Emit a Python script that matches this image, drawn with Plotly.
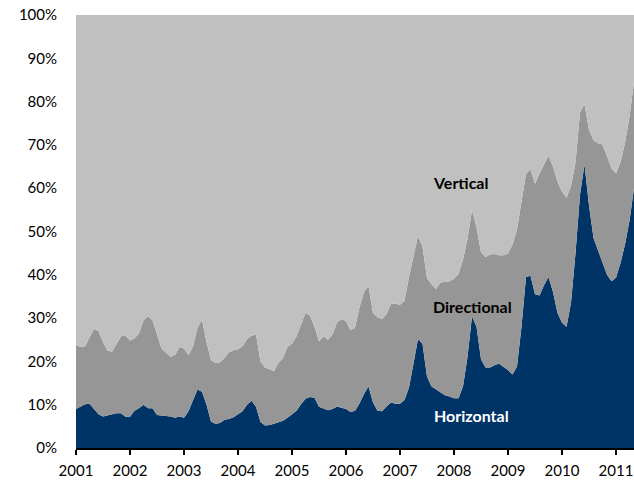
import plotly.graph_objects as go

# Monthly shares (%), Jan 2001 .. May 2011
years = ["2001", "2002", "2003", "2004", "2005", "2006", "2007", "2008", "2009", "2010", "2011"]

horizontal = [
    9.0, 9.5, 10.1, 10.2, 9.0, 7.8, 7.3, 7.5, 7.8, 8.0, 8.0, 7.2,
    7.2, 8.6, 9.2, 10.0, 9.2, 9.2, 7.6, 7.5, 7.4, 7.3, 7.0, 7.3,
    7.0, 8.5, 11.0, 13.5, 13.0, 10.0, 6.1, 5.6, 5.8, 6.5, 6.7, 7.1,
    7.8, 8.5, 10.0, 10.9, 9.5, 6.0, 5.2, 5.3, 5.6, 6.0, 6.3, 7.0,
    7.8, 8.6, 10.1, 11.4, 11.8, 11.6, 9.5, 9.1, 8.7, 9.0, 9.6, 9.3,
    9.0, 8.3, 8.6, 10.3, 12.5, 14.2, 10.5, 8.6, 8.5, 9.6, 10.5, 10.2,
    10.2, 11.1, 14.0, 19.5, 25.2, 24.0, 16.5, 14.2, 13.5, 12.8, 12.2, 11.9,
    11.5, 11.5, 14.2, 21.0, 30.4, 28.0, 20.5, 18.6, 18.6, 19.1, 19.5, 18.7,
    18.0, 17.0, 18.8, 28.0, 39.5, 39.8, 35.5, 35.2, 37.6, 39.5, 36.0, 31.2,
    28.9, 28.0, 33.5, 45.0, 58.5, 65.5, 56.0, 48.5, 45.5, 42.9, 40.0, 38.5,
    39.3, 42.7, 47.0, 52.5, 60.0,
]

directional = [
    14.8, 13.8, 13.4, 15.3, 18.5, 19.2, 17.2, 15.0, 14.4, 16.0, 17.8, 18.8,
    17.6, 16.7, 17.3, 19.5, 21.2, 20.3, 18.4, 15.5, 14.6, 13.8, 14.5, 16.0,
    16.0, 13.0, 12.5, 14.3, 16.6, 14.5, 14.2, 14.0, 14.0, 14.3, 15.4, 15.5,
    15.0, 15.0, 15.2, 15.0, 16.7, 14.0, 13.4, 12.9, 12.2, 13.7, 14.5, 16.4,
    16.3, 17.2, 18.2, 19.8, 18.8, 16.4, 15.1, 16.7, 16.3, 17.2, 19.4, 20.5,
    20.3, 18.9, 19.2, 22.2, 23.5, 23.3, 20.7, 21.6, 21.3, 21.3, 22.8, 23.1,
    22.9, 22.9, 25.5, 25.0, 23.8, 22.5, 22.7, 23.6, 23.2, 25.4, 26.1, 26.6,
    27.6, 28.7, 29.3, 27.3, 24.6, 23.0, 24.7, 25.5, 26.1, 25.7, 25.0, 25.8,
    26.9, 30.0, 31.7, 29.0, 23.8, 24.6, 25.5, 28.2, 27.9, 28.0, 29.0, 30.3,
    30.3, 29.8, 27.0, 21.0, 19.0, 13.9, 17.5, 22.5, 24.9, 27.2, 27.4, 26.1,
    24.1, 23.3, 23.5, 24.0, 24.5,
]

vertical = [
    76.2, 76.7, 76.5, 74.5, 72.5, 73.0, 75.5, 77.5, 77.8, 76.0, 74.2, 74.0,
    75.2, 74.7, 73.5, 70.5, 69.6, 70.5, 74.0, 77.0, 78.0, 78.9, 78.5, 76.7,
    77.0, 78.5, 76.5, 72.2, 70.4, 75.5, 79.7, 80.4, 80.2, 79.2, 77.9, 77.4,
    77.2, 76.5, 74.8, 74.1, 73.8, 80.0, 81.4, 81.8, 82.2, 80.3, 79.2, 76.6,
    75.9, 74.2, 71.7, 68.8, 69.4, 72.0, 75.4, 74.2, 75.0, 73.8, 71.0, 70.2,
    70.7, 72.8, 72.2, 67.5, 64.0, 62.5, 68.8, 69.8, 70.2, 69.1, 66.7, 66.7,
    66.9, 66.0, 60.5, 55.5, 51.0, 53.5, 60.8, 62.2, 63.3, 61.8, 61.7, 61.5,
    60.9, 59.8, 56.5, 51.7, 45.0, 49.0, 54.8, 55.9, 55.3, 55.2, 55.5, 55.5,
    55.1, 53.0, 49.5, 43.0, 36.7, 35.6, 39.0, 36.6, 34.5, 32.5, 35.0, 38.5,
    40.8, 42.2, 39.5, 34.0, 22.5, 20.6, 26.5, 29.0, 29.6, 29.9, 32.6, 35.4,
    36.6, 34.0, 29.5, 23.5, 15.5,
]

months = list(range(len(horizontal)))
tick_vals = [12 * i for i in range(len(years))]

series = [
    ("Horizontal", horizontal, "#003366"),
    ("Directional", directional, "#969696"),
    ("Vertical", vertical, "#C0C0C0"),
]

fig = go.Figure()
for name, vals, color in series:
    fig.add_trace(go.Scatter(
        x=months, y=vals, name=name, mode="lines",
        stackgroup="one", groupnorm="percent",
        line=dict(width=0, color=color), fillcolor=color,
        hoverinfo="skip",
    ))

label_font = dict(family="Lato, Calibri, sans-serif", size=16)
annotations = [
    dict(x=78.9, y=61.3, text="<b>Vertical</b>", font=dict(color="#000000", **label_font)),
    dict(x=78.9, y=32.6, text="<b>Directional</b>", font=dict(color="#000000", **label_font)),
    dict(x=79.1, y=7.6, text="<b>Horizontal</b>", font=dict(color="#FFFFFF", **label_font)),
]
for a in annotations:
    a.update(xref="x", yref="y", showarrow=False, xanchor="left", yanchor="middle")

fig.update_layout(
    width=634, height=483,
    margin=dict(l=76, r=0, t=15, b=35),
    paper_bgcolor="white", plot_bgcolor="white",
    showlegend=False,
    font=dict(family="Lato, Calibri, sans-serif", size=15, color="#000000"),
    annotations=annotations,
    xaxis=dict(
        range=[0, len(horizontal) - 1],
        tickvals=tick_vals, ticktext=years,
        showgrid=False, zeroline=False,
        showline=True, linecolor="#000000", linewidth=2,
        ticks="outside", ticklen=5, tickwidth=2, tickcolor="#000000",
        ticklabelstandoff=3,
    ),
    yaxis=dict(
        range=[0, 100], dtick=10, ticksuffix="%",
        showgrid=False, zeroline=False, showline=False,
        ticks="", ticklabelstandoff=18,
    ),
)

fig.write_html("out.html", config={"displayModeBar": False},
               post_script="document.body.style.margin='0';")
